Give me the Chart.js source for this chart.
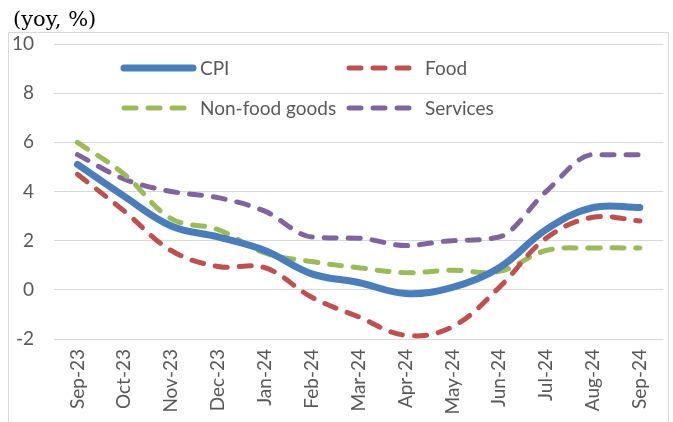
<!DOCTYPE html>
<html>
<head>
<meta charset="utf-8">
<script src="https://cdn.jsdelivr.net/npm/chart.js@4/dist/chart.umd.min.js"></script>
<style>
  html, body { margin: 0; padding: 0; background: #fff; }
  #wrap { position: relative; width: 673px; height: 422px; }
</style>
</head>
<body>
<div id="wrap"><canvas id="chart" width="673" height="422"></canvas></div>
<script>
// Monthly yoy inflation, %
const months = ['Sep-23', 'Oct-23', 'Nov-23', 'Dec-23', 'Jan-24', 'Feb-24', 'Mar-24',
  'Apr-24', 'May-24', 'Jun-24', 'Jul-24', 'Aug-24', 'Sep-24'];
const cpi      = [5.1, 3.8, 2.6, 2.15, 1.6, 0.65, 0.3, -0.15, 0.1, 0.9, 2.45, 3.35, 3.35];
const food     = [4.7, 3.2, 1.6, 0.95, 0.9, -0.3, -1.1, -1.85, -1.5, 0.1, 2.1, 2.95, 2.8];
const nonFood  = [6.0, 4.7, 2.9, 2.45, 1.5, 1.15, 0.9, 0.7, 0.8, 0.75, 1.6, 1.7, 1.7];
const services = [5.5, 4.5, 4.0, 3.75, 3.2, 2.15, 2.1, 1.8, 2.0, 2.15, 4.0, 5.5, 5.5];
const yTicks = [-2, 0, 2, 4, 6, 8, 10];

const tickFont = { family: 'Lato', size: 19 };
const tickColor = '#595959';

// frame, unit label and two-column legend drawn on the canvas
const decor = {
  id: 'decor',
  beforeDraw(chart) {
    const ctx = chart.ctx;
    ctx.save();
    ctx.strokeStyle = '#d9d9d9';
    ctx.lineWidth = 1;
    ctx.strokeRect(8.5, 32.5, 660, 400);
    ctx.fillStyle = '#000';
    ctx.font = '21px "DejaVu Serif"';
    ctx.textBaseline = 'alphabetic';
    ctx.fillText('(yoy, %)', 13, 26);
    ctx.restore();
  },
  afterDraw(chart) {
    const ctx = chart.ctx;
    const slots = [[122, 68], [347, 68], [122, 108], [347, 108]];
    ctx.save();
    chart.data.datasets.forEach((ds, i) => {
      const [x, y] = slots[i];
      const len = ds.borderDash.length ? 65 : 73;
      ctx.beginPath();
      ctx.strokeStyle = ds.borderColor;
      ctx.lineWidth = ds.borderWidth;
      ctx.lineCap = 'round';
      ctx.setLineDash(ds.borderDash);
      ctx.moveTo(x + 2, y);
      ctx.lineTo(x + len - 2, y);
      ctx.stroke();
      ctx.setLineDash([]);
      ctx.fillStyle = tickColor;
      ctx.font = '19px Lato';
      ctx.textBaseline = 'middle';
      ctx.fillText(ds.label, x + 78, y + 1);
    });
    ctx.restore();
  }
};

const line = (label, data, color, width, dash, mode) => ({
  label, data,
  borderColor: color,
  borderWidth: width,
  borderDash: dash,
  borderCapStyle: 'round',
  borderJoinStyle: 'round',
  tension: 0.38,
  cubicInterpolationMode: mode || 'default',
  pointRadius: 0,
  fill: false,
});

new Chart(document.getElementById('chart'), {
  type: 'line',
  data: {
    labels: months,
    datasets: [
      line('CPI', cpi, '#4a7ebb', 7, []),
      line('Food', food, '#c0504d', 5, [12, 12]),
      line('Non-food goods', nonFood, '#9bbb59', 5, [12, 12]),
      line('Services', services, '#8064a2', 5, [12, 12], 'monotone'),
    ],
  },
  options: {
    responsive: false,
    animation: false,
    layout: { padding: { top: 44, right: 9, left: 0, bottom: 0 } },
    plugins: { legend: { display: false }, tooltip: { enabled: false } },
    scales: {
      x: {
        offset: true,
        grid: { display: false, drawTicks: false },
        border: { display: false },
        ticks: { color: tickColor, font: tickFont, minRotation: 90, maxRotation: 90, padding: 10, autoSkip: false },
        afterFit: s => { s.height = 422 - 339; },
      },
      y: {
        min: -2, max: 10,
        afterBuildTicks: s => { s.ticks = yTicks.map(v => ({ value: v })); },
        grid: { color: '#d9d9d9', lineWidth: 1, drawTicks: false },
        border: { display: false },
        ticks: { color: tickColor, font: tickFont, padding: 20 },
        afterFit: s => { s.width = 54; },
      },
    },
  },
  plugins: [decor],
});
</script>
</body>
</html>
